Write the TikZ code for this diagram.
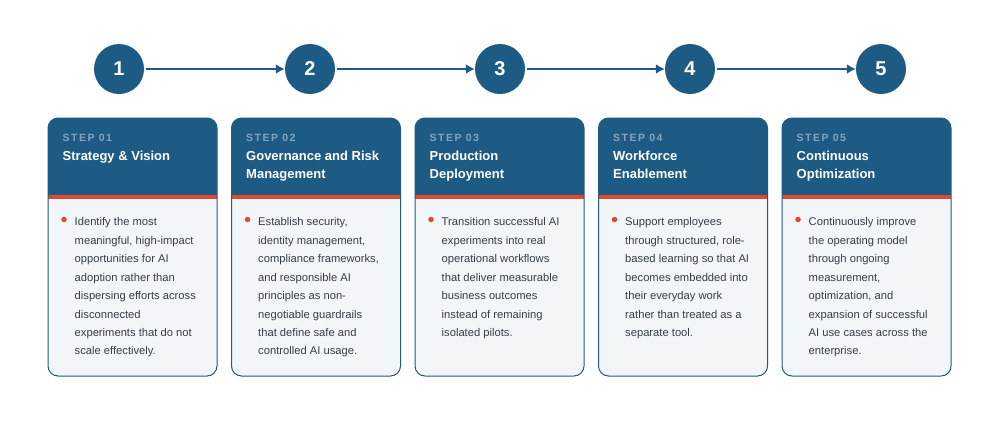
\documentclass[tikz,border=0pt]{standalone}
\usepackage{fontspec}
\setmainfont{Liberation Sans}
\usepackage{xcolor}
\usetikzlibrary{arrows.meta,positioning}
\definecolor{ink}{HTML}{1D5B85}
\definecolor{pale}{HTML}{F3F6F9}
\definecolor{accent}{HTML}{E0492D}
\definecolor{muted}{HTML}{86A4BD}
\definecolor{bodytext}{HTML}{343E48}

\begin{document}
\begin{tikzpicture}[x=1pt,y=-1pt,>=Latex,
 stepdot/.style={circle,fill=ink,minimum size=50pt,inner sep=0pt,text=white,font=\fontsize{20}{24}\selectfont\bfseries},
 flow/.style={-{Latex[length=9pt,width=10pt]},line width=2pt,draw=ink,shorten <=1.5pt},
 card/.style={draw=ink,line width=1pt,fill=pale,rounded corners=10pt,minimum width=169pt,minimum height=258pt,inner sep=0pt,
  path picture={\fill[ink,sharp corners] (path picture bounding box.north west) rectangle ([yshift=-77pt]path picture bounding box.north east);
   \fill[accent,sharp corners] ([yshift=-77pt]path picture bounding box.north west) rectangle ([yshift=-80.5pt]path picture bounding box.north east);}},
 tag/.style={anchor=base west,inner sep=0pt,text=muted,font=\fontsize{10.5}{12}\selectfont\bfseries\addfontfeatures{LetterSpace=14}},
 headline/.style={anchor=north west,inner sep=0pt,align=left,text=white,font=\fontsize{13}{18}\selectfont\bfseries},
 blurb/.style={anchor=north west,inner sep=0pt,align=left,text=bodytext,font=\fontsize{11.2}{18.45}\selectfont},
 bulletdot/.style={circle,fill=accent,inner sep=0pt,minimum size=5.5pt}]
\useasboundingbox[fill=white] (0,0) rectangle (1000,421);
% step markers
\node[stepdot] (s1) at (119,69) {1};
\node[stepdot] (s2) at (310,69) {2};
\node[stepdot] (s3) at (500,69) {3};
\node[stepdot] (s4) at (690,69) {4};
\node[stepdot] (s5) at (881,69) {5};
\draw[flow] (s1) -- (s2);
\draw[flow] (s2) -- (s3);
\draw[flow] (s3) -- (s4);
\draw[flow] (s4) -- (s5);
% cards
\node[card] (card1) at (132.5,247) {};
\node[card] (card2) at (316,247) {};
\node[card] (card3) at (499.5,247) {};
\node[card] (card4) at (683,247) {};
\node[card] (card5) at (866.5,247) {};
\node[tag] (tag1) at ([xshift=15pt,yshift=-24pt]card1.north west) {STEP 01};
\node[tag] (tag2) at ([xshift=15pt,yshift=-24pt]card2.north west) {STEP 02};
\node[tag] (tag3) at ([xshift=15pt,yshift=-24pt]card3.north west) {STEP 03};
\node[tag] (tag4) at ([xshift=15pt,yshift=-24pt]card4.north west) {STEP 04};
\node[tag] (tag5) at ([xshift=15pt,yshift=-24pt]card5.north west) {STEP 05};
\node[headline] (head1) at ([xshift=15pt,yshift=-33.5pt]card1.north west) {Strategy \& Vision};
\node[headline] (head2) at ([xshift=15pt,yshift=-33.5pt]card2.north west) {Governance and Risk\\Management};
\node[headline] (head3) at ([xshift=15pt,yshift=-33.5pt]card3.north west) {Production\\Deployment};
\node[headline] (head4) at ([xshift=15pt,yshift=-33.5pt]card4.north west) {Workforce\\Enablement};
\node[headline] (head5) at ([xshift=15pt,yshift=-33.5pt]card5.north west) {Continuous\\Optimization};
\node[bulletdot] (dot1) at ([xshift=16.5pt,yshift=-102pt]card1.north west) {};
\node[bulletdot] (dot2) at ([xshift=16.5pt,yshift=-102pt]card2.north west) {};
\node[bulletdot] (dot3) at ([xshift=16.5pt,yshift=-102pt]card3.north west) {};
\node[bulletdot] (dot4) at ([xshift=16.5pt,yshift=-102pt]card4.north west) {};
\node[bulletdot] (dot5) at ([xshift=16.5pt,yshift=-102pt]card5.north west) {};
\node[blurb] (text1) at ([xshift=27pt,yshift=-100pt]card1.north west) {Identify the most\\meaningful, high-impact\\opportunities for AI\\adoption rather than\\dispersing efforts across\\disconnected\\experiments that do not\\scale effectively.};
\node[blurb] (text2) at ([xshift=27pt,yshift=-100pt]card2.north west) {Establish security,\\identity management,\\compliance frameworks,\\and responsible AI\\principles as non-\\negotiable guardrails\\that define safe and\\controlled AI usage.};
\node[blurb] (text3) at ([xshift=27pt,yshift=-100pt]card3.north west) {Transition successful AI\\experiments into real\\operational workflows\\that deliver measurable\\business outcomes\\instead of remaining\\isolated pilots.};
\node[blurb] (text4) at ([xshift=27pt,yshift=-100pt]card4.north west) {Support employees\\through structured, role-\\based learning so that AI\\becomes embedded into\\their everyday work\\rather than treated as a\\separate tool.};
\node[blurb] (text5) at ([xshift=27pt,yshift=-100pt]card5.north west) {Continuously improve\\the operating model\\through ongoing\\measurement,\\optimization, and\\expansion of successful\\AI use cases across the\\enterprise.};
\end{tikzpicture}
\end{document}
